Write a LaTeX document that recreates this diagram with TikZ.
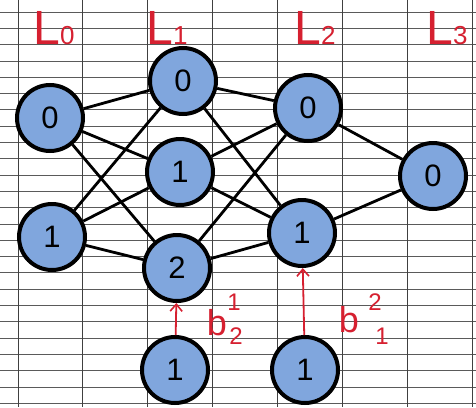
\documentclass[tikz,border=0pt]{standalone}
\usepackage{fontspec}
\setmainfont{Liberation Sans}
\usetikzlibrary{arrows.meta}
\definecolor{cellblue}{RGB}{128,166,221}
\definecolor{inkred}{RGB}{214,32,48}
\definecolor{rule}{RGB}{90,90,90}
\tikzset{
  neuron/.style={circle, draw=black, line width=4pt, fill=cellblue,
    minimum size=66pt, inner sep=0pt, font=\fontsize{31}{31}\selectfont},
  link/.style={black, line width=2.8pt},
  biasarrow/.style={inkred, line width=1.8pt, -{Straight Barb[length=7pt,width=12pt,line width=1.6pt]}},
  layerlabel/.style={inkred, inner sep=0pt},
  biasletter/.style={inkred, inner sep=0pt, font=\fontsize{36}{36}\selectfont},
  biasindex/.style={inkred, inner sep=0pt, font=\fontsize{24}{24}\selectfont},
}
\newcommand{\layername}[1]{{\fontsize{48}{48}\selectfont L}{\fontsize{26}{26}\selectfont #1}}
\begin{document}
\begin{tikzpicture}[x=1pt,y=-1pt]
  % paper
  \fill[white] (0,0) rectangle (476,407);
  \useasboundingbox (0,0) rectangle (476,407);
  % ruled lines of the squared paper
  \foreach \k in {0,...,24} {
    \draw[rule, line width=0.8pt] (0,{12+16.3*\k}) -- (476,{12+16.3*\k});
  }
  \foreach \x in {18,82,147,212,277,342,407,472} {
    \draw[black!75, line width=1pt] (\x,0) -- (\x,407);
  }

  % layer titles
  \node[layerlabel] (t0) at (54,28) {\layername{0}};
  \node[layerlabel] (t1) at (167,28) {\layername{1}};
  \node[layerlabel] (t2) at (315,28) {\layername{2}};
  \node[layerlabel] (t3) at (447,28) {\layername{3}};

  % neurons
  \node[neuron] (a0) at (50,118) {0};
  \node[neuron] (a1) at (52,237) {1};
  \node[neuron] (b0) at (183,81) {0};
  \node[neuron] (b1) at (180,172) {1};
  \node[neuron] (b2) at (177,268) {2};
  \node[neuron] (c0) at (308,108) {0};
  \node[neuron] (c1) at (302,233) {1};
  \node[neuron] (d0) at (433,176) {0};
  \node[neuron] (e1) at (175,370) {1};
  \node[neuron] (e2) at (305,370) {1};

  % weights
  \foreach \s in {a0,a1} \foreach \t in {b0,b1,b2} \draw[link] (\s) -- (\t);
  \foreach \s in {b0,b1,b2} \foreach \t in {c0,c1} \draw[link] (\s) -- (\t);
  \foreach \s in {c0,c1} \draw[link] (\s) -- (d0);

  % bias inputs
  \draw[biasarrow] (e1) -- (b2);
  \draw[biasarrow] (e2) -- (c1);
  \node[biasletter] (lb1) at (217,323) {b};
  \node[biasindex] (lb1s) at (234,302) {1};
  \node[biasindex] (lb1i) at (236,336) {2};
  \node[biasletter] (lb2) at (349,320) {b};
  \node[biasindex] (lb2s) at (375,302) {2};
  \node[biasindex] (lb2i) at (382,336) {1};
\end{tikzpicture}
\end{document}
